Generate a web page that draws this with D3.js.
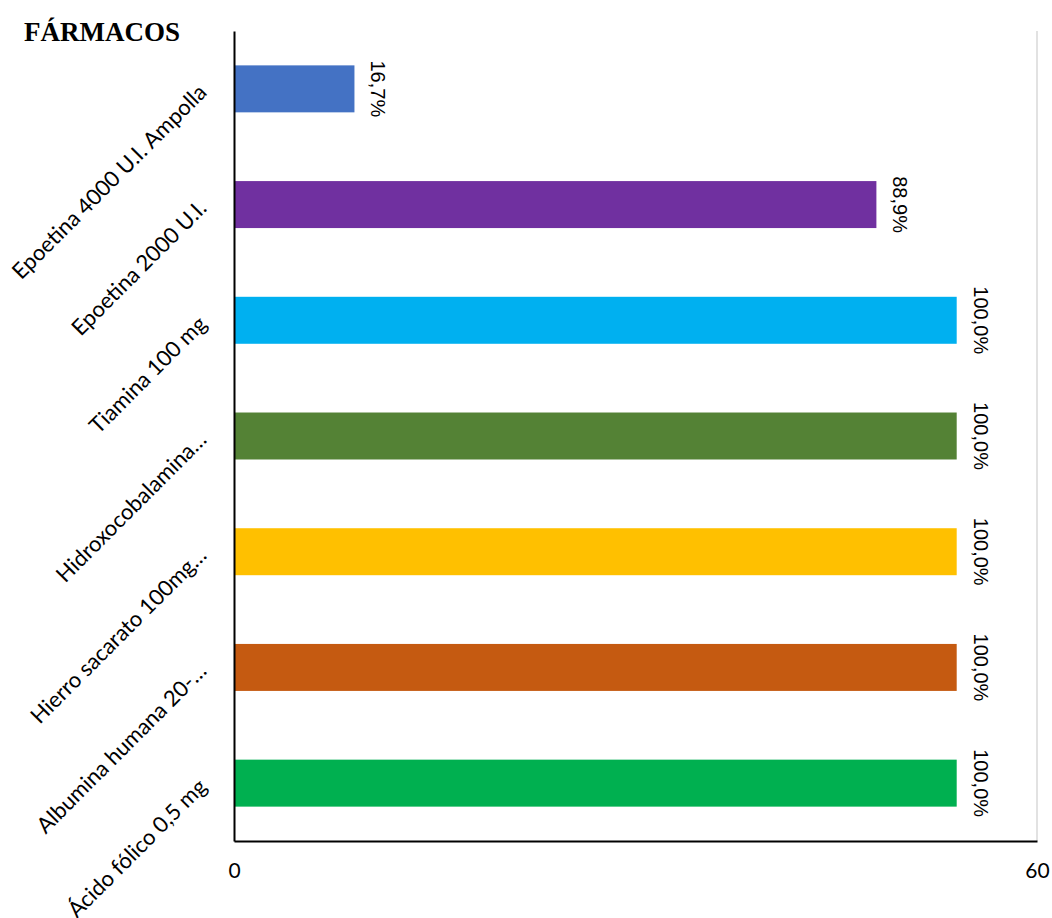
<!DOCTYPE html>
<html>
<head>
<meta charset="utf-8">
<script src="https://cdn.jsdelivr.net/npm/d3@7"></script>
<style>
  body { margin: 0; background: #fff; }
  svg { display: block; }
</style>
</head>
<body>
<script>
const categories = [
  "Epoetina 4000 U.I. Ampolla",
  "Epoetina 2000 U.I.",
  "Tiamina 100 mg",
  "Hidroxocobalamina…",
  "Hierro sacarato 100mg…",
  "Albumina humana 20-…",
  "Ácido fólico 0,5 mg"
];
const counts = [9, 48, 54, 54, 54, 54, 54];
const percentLabels = ["16,7%", "88,9%", "100,0%", "100,0%", "100,0%", "100,0%", "100,0%"];
const colors = ["#4472C4", "#7030A0", "#00B0F0", "#548235", "#FFC000", "#C55A11", "#00B050"];
const xTicks = [0, 60];

const W = 1052, H = 918;
const m = { left: 234, top: 31, right: W - 1037, bottom: H - 841 };

const svg = d3.select("body").append("svg").attr("width", W).attr("height", H);

const x = d3.scaleLinear().domain([0, 60]).range([m.left, W - m.right]);
const y = d3.scaleBand().domain(categories).range([m.top, H - m.bottom]).paddingInner(0.594).paddingOuter(0.297);

// right light border
svg.append("line")
  .attr("x1", x(60)).attr("x2", x(60))
  .attr("y1", m.top).attr("y2", H - m.bottom)
  .attr("stroke", "#d9d9d9").attr("stroke-width", 1.5);

// bars
svg.selectAll("rect.bar").data(categories).join("rect")
  .attr("class", "bar")
  .attr("x", x(0))
  .attr("y", d => y(d))
  .attr("width", (d, i) => x(counts[i]) - x(0))
  .attr("height", y.bandwidth())
  .attr("fill", (d, i) => colors[i]);

// value labels (rotated 90°)
svg.selectAll("text.val").data(categories).join("text")
  .attr("class", "val")
  .attr("transform", (d, i) => `translate(${x(counts[i]) + 17},${y(d) + y.bandwidth() / 2}) rotate(90)`)
  .attr("text-anchor", "middle")
  .attr("font-family", "Liberation Sans, Arial, sans-serif")
  .attr("font-size", 20)
  .attr("fill", "#000")
  .text((d, i) => percentLabels[i]);

// x axis
const xAxis = d3.axisBottom(x).tickValues(xTicks).tickSize(0).tickPadding(22).tickFormat(d3.format("d"));
const gx = svg.append("g").attr("transform", `translate(0,${H - m.bottom})`).call(xAxis);
gx.select(".domain").attr("stroke", "#000").attr("stroke-width", 2);
gx.selectAll("text").attr("font-family", "Lato, 'Open Sans', sans-serif").attr("font-size", 21).attr("fill", "#000");

// y axis
const yAxis = d3.axisLeft(y).tickSize(0).tickPadding(0);
const gy = svg.append("g").attr("transform", `translate(${m.left},0)`).call(yAxis);
gy.select(".domain").attr("stroke", "#000").attr("stroke-width", 2);
gy.selectAll(".tick text")
  .attr("font-family", "Lato, 'Open Sans', sans-serif")
  .attr("font-size", 22)
  .attr("fill", "#000")
  .attr("text-anchor", "end")
  .attr("x", 0).attr("dy", 0)
  .attr("transform", "translate(-26,5) rotate(-45)");

// title
svg.append("text")
  .attr("x", 24).attr("y", 41)
  .attr("font-family", "Liberation Serif, 'Times New Roman', serif")
  .attr("font-weight", "bold")
  .attr("font-size", 27)
  .attr("fill", "#000")
  .text("FÁRMACOS");
</script>
</body>
</html>
